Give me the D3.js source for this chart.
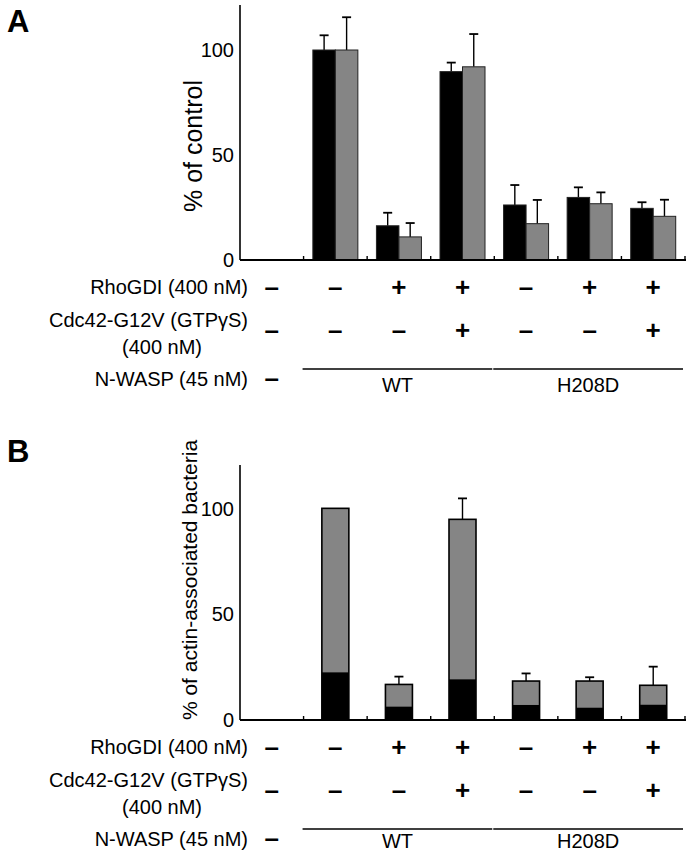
<!DOCTYPE html>
<html><head><meta charset="utf-8">
<script src="https://cdn.jsdelivr.net/npm/d3@7"></script>
<style>
body{margin:0;background:#fff;}
svg text{font-family:"Liberation Sans",Arial,Helvetica,sans-serif;fill:#000;}
</style></head>
<body><svg id="c" width="691" height="853"></svg>
<script>
// ---- data ----
const groups = ["none","WT-1","WT-2","WT-3","H208D-1","H208D-2","H208D-3"];
const yTicks = [0, 50, 100];
// Panel A: two series (% of control)
const seriesA = ["black","gray"];
const blackA    = [null, 100, 16.3, 89.7, 26.2, 29.8, 24.6];
const blackAErr = [null, 7.0, 6.2, 4.3, 9.5, 4.8, 2.9];
const grayA     = [null, 100, 11.0, 92.0, 17.3, 26.8, 20.8];
const grayAErr  = [null, 15.6, 6.6, 15.6, 11.3, 5.4, 7.9];
// Panel B: stacked (% of actin-associated bacteria)
const totalB    = [null, 100, 16.8, 94.8, 18.4, 18.4, 16.4];
const totalBErr = [null, 0, 3.7, 9.9, 3.6, 1.8, 8.8];
const blackB    = [null, 22.5, 6.3, 19.2, 7.1, 5.8, 7.2];
// condition rows
const rhoGDI = ["–","–","+","+","–","+","+"];
const cdc42  = ["–","–","–","+","–","–","+"];
const nwaspNone = "–";
const nwaspGroups = [{label:"WT", from:1, to:3},{label:"H208D", from:4, to:6}];
const rowLabels = ["RhoGDI (400 nM)","Cdc42-G12V (GTPγS)","(400 nM)","N-WASP (45 nM)"];

const svg = d3.select("#c");
const x = d3.scaleBand().domain(groups).range([240, 685]).padding(0);
const GRAY = "#858585";
const FS = 20;

function axes(g, y, top){
  g.append("line").attr("x1",240).attr("x2",240).attr("y1",top).attr("y2",y(0))
   .attr("stroke","#000").attr("stroke-width",1.6);
  g.append("line").attr("x1",240).attr("x2",686).attr("y1",y(0)).attr("y2",y(0))
   .attr("stroke","#000").attr("stroke-width",1.8);
  groups.forEach((d,i)=>{
    const xx = x(d)+x.bandwidth();
    g.append("line").attr("x1",xx).attr("x2",xx).attr("y1",y(0)).attr("y2",y(0)-4)
     .attr("stroke","#000").attr("stroke-width",1.4);
  });
  yTicks.forEach(t=>{
    g.append("text").attr("x",234).attr("y",y(t)).attr("dy","0.36em")
     .attr("text-anchor","end").attr("font-size",FS).text(t);
  });
}

function errBar(g, cx, yTop, yErr){
  g.append("line").attr("x1",cx).attr("x2",cx).attr("y1",yTop).attr("y2",yErr)
   .attr("stroke","#000").attr("stroke-width",1.4);
  g.append("line").attr("x1",cx-4.5).attr("x2",cx+4.5).attr("y1",yErr).attr("y2",yErr)
   .attr("stroke","#000").attr("stroke-width",1.8);
}

function conditionRows(g, off, labelBase){
  const cx = d => x(d)+x.bandwidth()/2;
  g.append("text").attr("x",248).attr("y",294+off).attr("text-anchor","end").attr("font-size",FS).text(rowLabels[0]);
  g.append("text").attr("x",248).attr("y",327+off).attr("text-anchor","end").attr("font-size",FS).text(rowLabels[1]);
  g.append("text").attr("x",162).attr("y",354+off).attr("text-anchor","middle").attr("font-size",FS).text(rowLabels[2]);
  g.append("text").attr("x",248).attr("y",386+off).attr("text-anchor","end").attr("font-size",FS).text(rowLabels[3]);
  groups.forEach((d,i)=>{
    g.append("text").attr("x",cx(d)).attr("y",287+off).attr("dy","0.33em").attr("text-anchor","middle")
     .attr("font-size",26).attr("font-weight","bold").text(rhoGDI[i]);
    g.append("text").attr("x",cx(d)).attr("y",330+off).attr("dy","0.33em").attr("text-anchor","middle")
     .attr("font-size",26).attr("font-weight","bold").text(cdc42[i]);
  });
  g.append("text").attr("x",cx(groups[0])).attr("y",387+off).attr("text-anchor","middle")
   .attr("font-size",26).attr("font-weight","bold").text(nwaspNone);
  nwaspGroups.forEach(n=>{
    const x1 = x(groups[n.from])-1, x2 = x(groups[n.to])+x.bandwidth()-2;
    g.append("line").attr("x1",x1).attr("x2",x2).attr("y1",369+off).attr("y2",369+off)
     .attr("stroke","#000").attr("stroke-width",1.4);
    g.append("text").attr("x",(x1+x2)/2).attr("y",labelBase).attr("text-anchor","middle")
     .attr("font-size",FS).text(n.label);
  });
}

// ---- Panel A ----
const gA = svg.append("g");
const yA = d3.scaleLinear().domain([0,120]).range([260, 8]);
const xs = d3.scaleBand().domain(seriesA).range([0,45]).paddingInner(0);
const valsA = {black:blackA, gray:grayA};
const errsA = {black:blackAErr, gray:grayAErr};
groups.forEach((d,i)=>{
  seriesA.forEach(s=>{
    const v = valsA[s][i];
    if (v==null) return;
    const bx = x(d) + (x.bandwidth()-45)/2 + xs(s);
    const cx = bx + xs.bandwidth()/2;
    errBar(gA, cx, yA(v), yA(v+errsA[s][i]));
    gA.append("rect").attr("x",bx).attr("y",yA(v)).attr("width",xs.bandwidth()).attr("height",yA(0)-yA(v))
      .attr("fill", s==="black" ? "#000" : GRAY).attr("stroke","#222").attr("stroke-width",1);
  });
});
axes(gA, yA, 5);
gA.append("text").attr("transform","translate(202,146) rotate(-90)").attr("text-anchor","middle")
  .attr("font-size",25).text("% of control");
gA.append("text").attr("x",7).attr("y",32).attr("font-size",31).attr("font-weight","bold").text("A");
conditionRows(gA, 0, 392);

// ---- Panel B ----
const gB = svg.append("g");
const yB = d3.scaleLinear().domain([0,120]).range([720, 466]);
const bw = 27;
groups.forEach((d,i)=>{
  const v = totalB[i];
  if (v==null) return;
  const bx = x(d) + (x.bandwidth()-bw)/2;
  if (totalBErr[i] > 0) errBar(gB, bx+bw/2, yB(v), yB(v+totalBErr[i]));
  gB.append("rect").attr("x",bx).attr("y",yB(v)).attr("width",bw).attr("height",yB(0)-yB(v))
    .attr("fill",GRAY);
  gB.append("rect").attr("x",bx).attr("y",yB(blackB[i])).attr("width",bw).attr("height",yB(0)-yB(blackB[i]))
    .attr("fill","#000");
  gB.append("rect").attr("x",bx).attr("y",yB(v)).attr("width",bw).attr("height",yB(0)-yB(v))
    .attr("fill","none").attr("stroke","#000").attr("stroke-width",1.6);
});
axes(gB, yB, 465);
gB.append("text").attr("transform","translate(197,580) rotate(-90)").attr("text-anchor","middle")
  .attr("font-size",21).text("% of actin-associated bacteria");
gB.append("text").attr("x",7).attr("y",462).attr("font-size",31).attr("font-weight","bold").text("B");
conditionRows(gB, 460, 848);
</script></body></html>
